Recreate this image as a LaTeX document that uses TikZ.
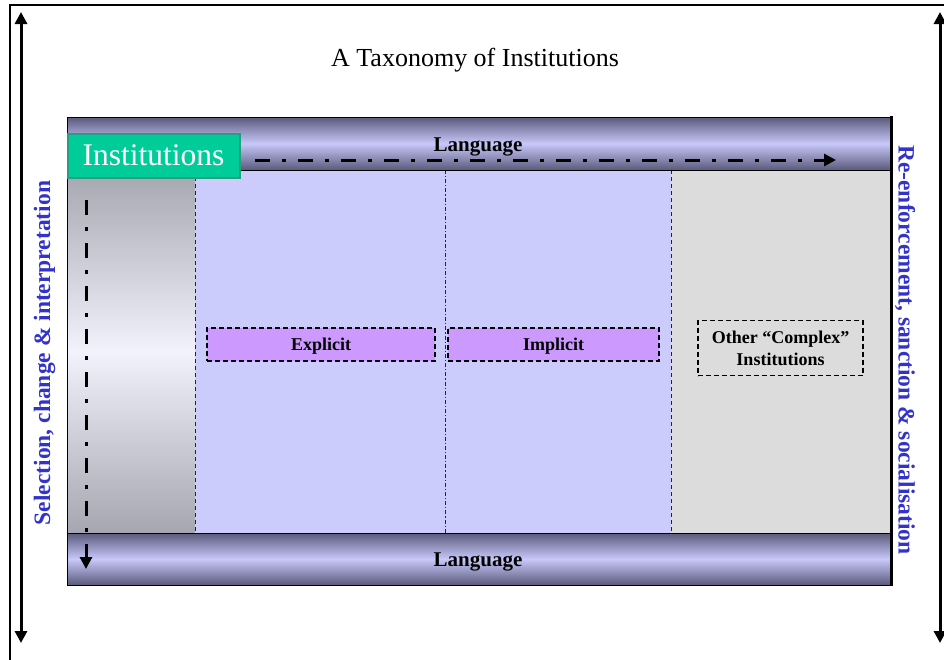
\documentclass[tikz,border=0pt]{standalone}
\usepackage{fontspec}
\setmainfont{Liberation Serif}
\usetikzlibrary{arrows.meta}
\definecolor{barDark}{HTML}{5A5A7C}
\definecolor{barLight}{HTML}{C8C8FA}
\definecolor{lav}{HTML}{CCCCFC}
\definecolor{grayc}{HTML}{DCDCDC}
\definecolor{colDark}{HTML}{A6A6B0}
\definecolor{colLight}{HTML}{F2F2FC}
\definecolor{instGreen}{HTML}{00CC99}
\definecolor{instEdge}{HTML}{23A07F}
\definecolor{purp}{HTML}{CC99FF}
\definecolor{sideBlue}{HTML}{3333CC}
\tikzset{
  bar/.style={draw=black, line width=0.8pt, top color=barDark, bottom color=barDark, middle color=barLight},
  boxdash/.style={draw=black, line width=1.2pt, dash pattern=on 5pt off 3pt},
  catbox/.style={boxdash, fill=purp, inner sep=0pt, text depth=0pt,
    font=\bfseries\fontsize{18}{21}\selectfont},
  otherbox/.style={boxdash, inner sep=0pt, align=center, text depth=0pt,
    font=\bfseries\fontsize{18}{22}\selectfont},
  langtext/.style={text depth=0pt, font=\bfseries\fontsize{21}{24}\selectfont},
  sidetext/.style={text=sideBlue, text depth=0pt, font=\bfseries\fontsize{23.5}{26}\selectfont},
  dashdotarrow/.style={line width=3pt, dash pattern=on 15pt off 12pt on 4pt off 12pt,
    -{Triangle[length=12pt,width=12pt]}},
  outerarrow/.style={line width=3pt, {Triangle[length=12pt,width=12pt]}-{Triangle[length=12pt,width=12pt]}},
  coldiv/.style={line width=1pt, dash pattern=on 4pt off 3pt, draw=black!85}
}
\begin{document}
\begin{tikzpicture}[x=1pt,y=-1pt]
\useasboundingbox (0,0) rectangle (944,659);
% outer frame
\draw[line width=2.5pt] (10,5) rectangle (960,680);
% outer arrows
\coordinate (lt) at (21,12);
\coordinate (lb) at (21,643);
\coordinate (rt) at (940,12);
\coordinate (rb) at (940,643);
\draw[outerarrow] (lt) -- (lb);
\draw[outerarrow] (rt) -- (rb);
% title
\node[text depth=0pt, font=\fontsize{26}{30}\selectfont] (title) at (475,57) {A Taxonomy of Institutions};
% columns
\path[top color=colDark, bottom color=colDark, middle color=colLight] (67,170) rectangle (195,533);
\path[fill=lav] (195,170) rectangle (671,533);
\path[fill=grayc] (671,170) rectangle (891,533);
\draw[coldiv] (195,170) -- (671,170);
\draw[coldiv] (195,533) -- (671,533);
\draw[coldiv] (195,170) -- (195,533);
\draw[coldiv] (671,170) -- (671,533);
\draw[line width=0.8pt, draw=black!85, dash pattern=on 4pt off 2pt on 1.2pt off 2pt] (445,170) -- (445,533);
% bars
\path[bar] (67,117) rectangle (891,170);
\path[bar] (67,533) rectangle (891,585);
\draw[line width=0.8pt] (67,117) rectangle (891,585);
\draw[line width=3pt] (891,116) -- (891,586);
% labels in bars
\node[langtext] (langtop) at (478,145) {Language};
\node[langtext] (langbot) at (478,560) {Language};
% category boxes
\node[catbox, minimum width=228pt, minimum height=33pt] (explicit) at (321,344.5) {Explicit};
\node[catbox, minimum width=211pt, minimum height=33pt] (implicit) at (553.5,344.5) {Implicit};
\node[otherbox, minimum width=165pt, minimum height=55pt] (other) at (780.5,348) {Other “Complex”\\Institutions};
% dash-dot arrows
\coordinate (hs) at (255,160);
\coordinate (he) at (836,160);
\draw[dashdotarrow] (hs) -- (he);
\coordinate (vs) at (86,200);
\coordinate (ve) at (86,569);
\draw[dashdotarrow] (vs) -- (ve);
% institutions tab
\node[draw=instEdge, line width=2pt, fill=instGreen, text=white, inner sep=0pt, text depth=0pt,
  minimum width=172pt, minimum height=44pt, font=\fontsize{31.5}{35}\selectfont] (inst) at (153.5,155.5) {Institutions};
% side texts
\node[sidetext, rotate=90] (leftside) at (42,353) {Selection, change \& interpretation};
\node[sidetext, rotate=-90] (rightside) at (907,350) {Re-enforcement, sanction \& socialisation};
\end{tikzpicture}
\end{document}
